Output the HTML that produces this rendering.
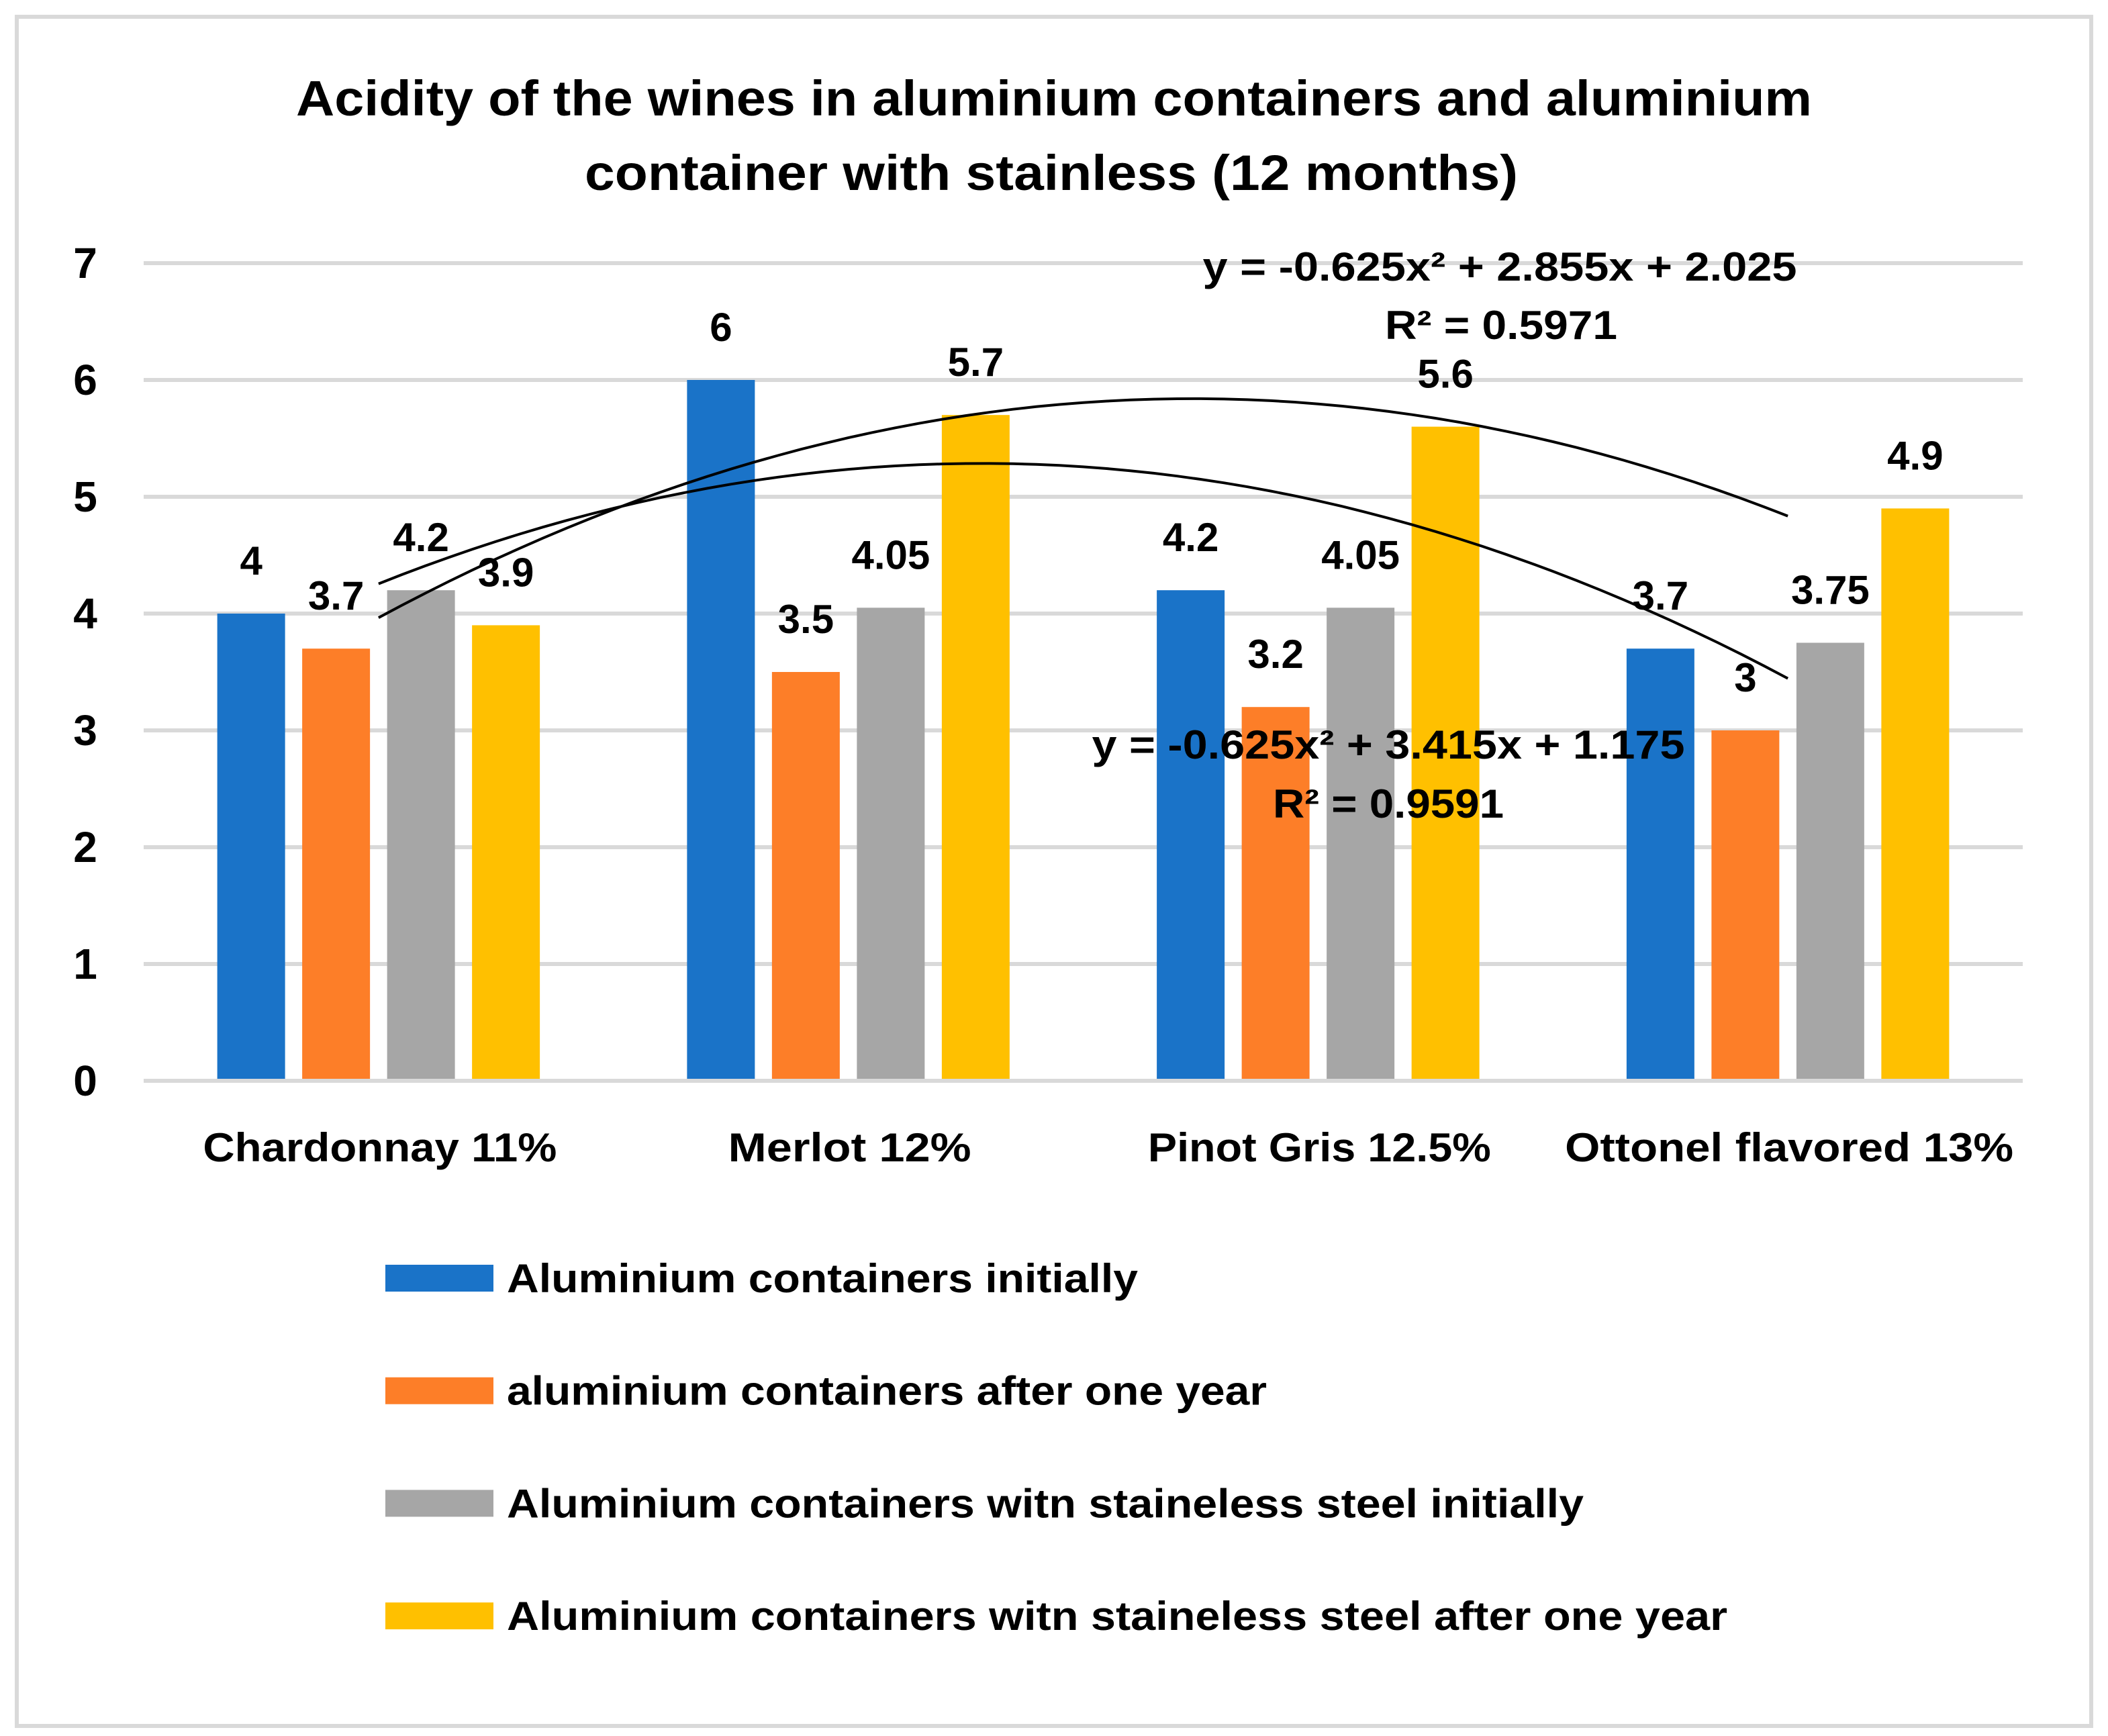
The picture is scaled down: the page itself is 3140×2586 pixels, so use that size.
<!DOCTYPE html>
<html><head><meta charset="utf-8"><style>
html,body{margin:0;padding:0;background:#fff}
svg{display:block}
text{font-family:"Liberation Sans",sans-serif;font-weight:bold;fill:#000}
</style></head>
<body>
<svg id="chart" width="3140" height="2586" viewBox="0 0 3140 2586" xmlns="http://www.w3.org/2000/svg">
<rect x="25" y="25" width="3090" height="2546" fill="#fff" stroke="#d9d9d9" stroke-width="6"/>
<text x="1570" y="172" font-size="74" text-anchor="middle" textLength="2258" lengthAdjust="spacingAndGlyphs">Acidity of the wines in aluminium containers and aluminium</text>
<text x="1566" y="283" font-size="74" text-anchor="middle" textLength="1390" lengthAdjust="spacingAndGlyphs">container with stainless  (12 months)</text>
<g id="grid"></g><g id="bars"></g><g id="labels"></g><g id="trends"></g><g id="legend"></g>
<text x="2234" y="418" font-size="60" text-anchor="middle" textLength="885" lengthAdjust="spacingAndGlyphs">y = -0.625x² + 2.855x + 2.025</text>
<text x="2236" y="505" font-size="60" text-anchor="middle" textLength="346" lengthAdjust="spacingAndGlyphs">R² = 0.5971</text>
<text x="2068" y="1130" font-size="60" text-anchor="middle" textLength="883" lengthAdjust="spacingAndGlyphs">y = -0.625x² + 3.415x + 1.175</text>
<text x="2068" y="1218" font-size="60" text-anchor="middle" textLength="344" lengthAdjust="spacingAndGlyphs">R² = 0.9591</text>
</svg>
<script>
const categories = ["Chardonnay 11%", "Merlot 12%", "Pinot Gris 12.5%", "Ottonel flavored 13%"];
const seriesNames = ["Aluminium containers initially", "aluminium containers after one year", "Aluminium containers witn staineless  steel initially", "Aluminium containers witn staineless steel  after one year"];
const alInitial = [4, 6, 4.2, 3.7];
const alAfter = [3.7, 3.5, 3.2, 3];
const ssInitial = [4.2, 4.05, 4.05, 3.75];
const ssAfter = [3.9, 5.7, 5.6, 4.9];
const labelsAlInitial = ["4", "6", "4.2", "3.7"];
const labelsAlAfter = ["3.7", "3.5", "3.2", "3"];
const labelsSsInitial = ["4.2", "4.05", "4.05", "3.75"];
const labelsSsAfter = ["3.9", "5.7", "5.6", "4.9"];
const yTicks = [0, 1, 2, 3, 4, 5, 6, 7];
const trend1Coef = [-0.625, 2.855, 2.025];
const trend2Coef = [-0.625, 3.415, 1.175];

const NS = "http://www.w3.org/2000/svg";
const colors = ["#1a73c8", "#fd7e28", "#a6a6a6", "#ffc000"];
const plotL = 214, plotR = 3013, y0 = 1610, yTop = 392, yMax = 7;
const catW = (plotR - plotL) / categories.length;
const yS = v => y0 - (y0 - yTop) * v / yMax;
const xC = i => plotL + catW * (i + 0.5);
const barW = 101, barStep = 126.5;
const catLabelW = [527, 362, 511, 668];
function mk(tag, attrs, parent) { const e = document.createElementNS(NS, tag); for (const k in attrs) e.setAttribute(k, attrs[k]); parent.appendChild(e); return e; }

const grid = document.getElementById('grid');
yTicks.forEach(t => {
  const l = mk('line', {x1: plotL, x2: plotR, y1: yS(t), y2: yS(t), stroke: '#d9d9d9', 'stroke-width': 6}, grid);
  
  
  const tx = mk('text', {x: 127, y: yS(t) + 22, 'font-size': 64, 'text-anchor': 'middle'}, grid);
  tx.textContent = t;
  
  
});
categories.forEach((c, i) => {
  const tx = mk('text', {x: xC(i) + 2, y: 1730, 'font-size': 60, 'text-anchor': 'middle', textLength: catLabelW[i], lengthAdjust: 'spacingAndGlyphs'}, grid);
  tx.textContent = c;
  
  
});

const series = [alInitial, alAfter, ssInitial, ssAfter];
const seriesLabels = [labelsAlInitial, labelsAlAfter, labelsSsInitial, labelsSsAfter];
const bars = document.getElementById('bars'), labels = document.getElementById('labels');
series.forEach((vals, s) => {
  vals.forEach((v, i) => {
    const cx = xC(i) + (s - 1.5) * barStep;
    const r = mk('rect', {x: cx - barW / 2, y: yS(v), width: barW, height: y0 - yS(v) - 3, fill: colors[s]}, bars);
    
    
    const t = mk('text', {x: cx, y: yS(v) - 58, 'font-size': 60, 'text-anchor': 'middle'}, labels);
    t.textContent = seriesLabels[s][i];
    
    
  });
});

const trends = document.getElementById('trends');
[trend1Coef, trend2Coef].forEach(c => {
  let d = '';
  for (let k = 0; k <= 60; k++) {
    const x = 1 + 3 * k / 60;
    const v = c[0] * x * x + c[1] * x + c[2];
    const px = xC(x - 1);
    d += (k ? 'L' : 'M') + px.toFixed(1) + ',' + yS(v).toFixed(1);
  }
  const p = mk('path', {d: d, fill: 'none', stroke: '#000', 'stroke-width': 4}, trends);
  
  
});

const legend = document.getElementById('legend');
const legendW = [940, 1132, 1604, 1818];
seriesNames.forEach((n, s) => {
  const cy = 1904 + s * 167.7;
  const r = mk('rect', {x: 574, y: cy - 20, width: 161, height: 40, fill: colors[s]}, legend);
  
  
  const t = mk('text', {x: 755, y: cy + 21, 'font-size': 60, textLength: legendW[s], lengthAdjust: 'spacingAndGlyphs'}, legend);
  t.textContent = n;
  
  
});
</script>
</body></html>
